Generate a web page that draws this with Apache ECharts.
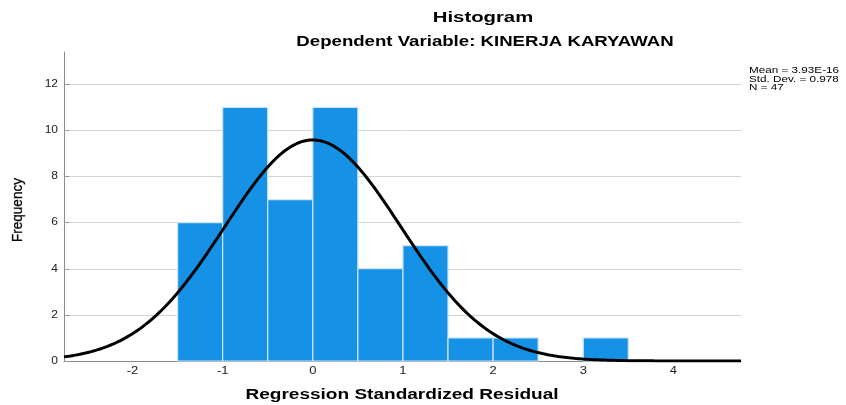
<!DOCTYPE html>
<html><head><meta charset="utf-8">
<script src="https://cdn.jsdelivr.net/npm/echarts@6/dist/echarts.min.js"></script>
<style>html,body{margin:0;padding:0;background:#fff}#c{width:846px;height:405px}</style>
</head><body><div id="c"></div>
<script>
// Histogram bins (lower edge, upper edge) and frequencies
const binLower = [-1.5, -1.0, -0.5, 0.0, 0.5, 1.0, 1.5, 2.0, 3.0];
const binUpper = [-1.0, -0.5, 0.0, 0.5, 1.0, 1.5, 2.0, 2.5, 3.5];
const frequency = [6, 11, 7, 11, 4, 5, 1, 1, 1];
// Summary stats shown in the chart
const meanValue = 3.93e-16;
const stdDev = 0.978;
const nCount = 47;
const binWidth = 0.5;
const xTicks = [-2, -1, 0, 1, 2, 3, 4];
const yTicks = [0, 2, 4, 6, 8, 10, 12];
const statLines = ['Mean = 3.93E-16', 'Std. Dev. = 0.978', 'N = 47'];
const titleText = 'Histogram';
const subtitleText = 'Dependent Variable: KINERJA KARYAWAN';
const xName = 'Regression Standardized Residual';
const yName = 'Frequency';

const xMin = -2.76, xMax = 4.75, yMax = 13.4;

// Normal curve defined by the stated mean / std. dev. / N
const curve = [];
for (let i = 0; i <= 300; i++) {
  const x = xMin + (xMax - xMin) * i / 300;
  const z = (x - meanValue) / stdDev;
  curve.push([x, nCount * binWidth / (stdDev * Math.sqrt(2 * Math.PI)) * Math.exp(-0.5 * z * z)]);
}

const barData = binLower.map((lo, i) => [lo, binUpper[i], frequency[i]]);

const chart = echarts.init(document.getElementById('c'), null, {renderer: 'canvas'});
const font = 'Liberation Sans, Arial, sans-serif';
chart.setOption({
  animation: false,
  grid: {left: 64, right: 105, top: 52, bottom: 44, outerBoundsMode: 'none', containLabel: false},
  xAxis: {
    type: 'value', min: xMin, max: xMax,
    axisLine: {show: true, onZero: false, lineStyle: {color: '#8c8c8c', width: 1}},
    axisTick: {show: false},
    splitLine: {show: false},
    axisLabel: {show: false}
  },
  yAxis: {
    type: 'value', min: 0, max: yMax,
    axisLine: {show: true, onZero: false, lineStyle: {color: '#8c8c8c', width: 1}},
    axisTick: {show: true, inside: true, length: 5, customValues: yTicks, lineStyle: {color: '#9a9a9a'}},
    axisLabel: {show: false, customValues: yTicks},
    splitLine: {show: true, lineStyle: {color: '#d3d3d3', width: 1}}
  },
  series: [
    {
      type: 'custom',
      data: barData,
      encode: {x: [0, 1], y: 2},
      renderItem: function (params, api) {
        const p0 = api.coord([api.value(0), 0]);
        const p1 = api.coord([api.value(1), api.value(2)]);
        return {
          type: 'rect',
          shape: {x: p0[0], y: p1[1], width: p1[0] - p0[0], height: p0[1] - p1[1]},
          style: {fill: '#1591e6', stroke: '#cfe6f8', lineWidth: 1.2}
        };
      },
      z: 2
    },
    {
      type: 'line', data: curve, showSymbol: false, smooth: false,
      lineStyle: {color: '#000', width: 3}, z: 3, silent: true
    }
  ]
});

// Text placed from the axis scales, stretched horizontally as in the reference
const x0 = chart.convertToPixel({yAxisIndex: 0}, 0);
const yAxisX = chart.convertToPixel({xAxisIndex: 0}, xMin);
const g = [];
xTicks.forEach(v => {
  g.push({type: 'text', x: chart.convertToPixel({xAxisIndex: 0}, v), y: x0 + 10, scaleX: 1.3,
    style: {text: String(v), font: '10px ' + font, fill: '#222', align: 'center', verticalAlign: 'middle'}});
});
yTicks.forEach(v => {
  g.push({type: 'text', x: yAxisX - 6, y: chart.convertToPixel({yAxisIndex: 0}, v), scaleX: 1.2,
    style: {text: String(v), font: '10px ' + font, fill: '#222', align: 'right', verticalAlign: 'middle'}});
});
g.push({type: 'text', x: 483, y: 18, scaleX: 1.45,
  style: {text: titleText, font: 'bold 14px ' + font, fill: '#000', align: 'center', verticalAlign: 'middle'}});
g.push({type: 'text', x: 485, y: 42, scaleX: 1.33,
  style: {text: subtitleText, font: 'bold 14px ' + font, fill: '#000', align: 'center', verticalAlign: 'middle'}});
g.push({type: 'text', x: 402, y: 395, scaleX: 1.36,
  style: {text: xName, font: 'bold 14px ' + font, fill: '#000', align: 'center', verticalAlign: 'middle'}});
g.push({type: 'text', x: 18, y: 210, rotation: Math.PI / 2, scaleX: 0.9,
  style: {text: yName, font: '15px ' + font, fill: '#000', align: 'center', verticalAlign: 'middle',
    stroke: '#000', lineWidth: 0.3}});
g.push({type: 'text', x: 749, y: 66, scaleX: 1.3,
  style: {text: statLines.join('\n'), font: '9px ' + font, lineHeight: 8.7, fill: '#000', align: 'left', verticalAlign: 'top'}});
chart.setOption({graphic: g});
</script></body></html>
